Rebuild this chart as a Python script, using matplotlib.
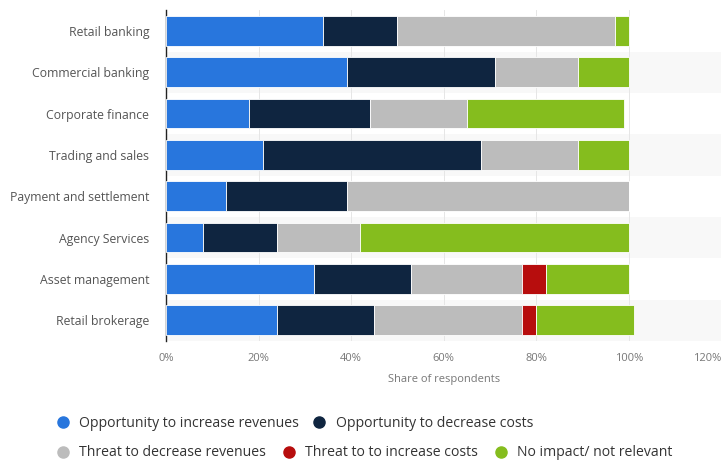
import matplotlib
matplotlib.use("Agg")
import matplotlib.pyplot as plt
from matplotlib.lines import Line2D
import numpy as np

categories = ["Retail banking", "Commercial banking", "Corporate finance", "Trading and sales",
              "Payment and settlement", "Agency Services", "Asset management", "Retail brokerage"]
series_names = ["Opportunity to increase revenues", "Opportunity to decrease costs",
                "Threat to decrease revenues", "Threat to to increase costs", "No impact/ not relevant"]
opp_rev = [34, 39, 18, 21, 13, 8, 32, 24]
opp_cost = [16, 32, 26, 47, 26, 16, 21, 21]
thr_rev = [47, 18, 21, 21, 61, 18, 24, 32]
thr_cost = [0, 0, 0, 0, 0, 0, 5, 3]
no_impact = [3, 11, 34, 11, 0, 58, 18, 21]
xticks = [0, 20, 40, 60, 80, 100, 120]
xtick_labels = ["0%", "20%", "40%", "60%", "80%", "100%", "120%"]

colors = ["#2876dd", "#0f2540", "#bcbcbc", "#b70d0d", "#85bd1e"]

plt.rcParams['font.family'] = ['Open Sans', 'DejaVu Sans']
fig = plt.figure(figsize=(7.21, 4.62), dpi=100)
ax = fig.add_axes([0.2302, 0.262, 0.7706, 0.716])

n = len(categories)
y = np.arange(n)
for i in range(n):
    if i % 2 == 1:
        ax.axhspan(i - 0.5, i + 0.5, color="#f8f8f8", zorder=0, lw=0)

left = np.zeros(n)
for vals, c, name in zip([opp_rev, opp_cost, thr_rev, thr_cost, no_impact], colors, series_names):
    v = np.array(vals, dtype=float)
    ax.barh(y, v, left=left, height=0.72, color=c, zorder=3, label=name, edgecolor="white", linewidth=0.6)
    left += v

ax.set_xlim(0, 120)
ax.set_ylim(n - 0.5, -0.5)
ax.set_yticks(y)
ax.set_yticklabels(categories, fontsize=8.8, color="#555555")
ax.set_xticks(xticks)
ax.set_xticklabels(xtick_labels, fontsize=8, color="#777777")
ax.get_xticklabels()[-1].set_horizontalalignment("right")
ax.tick_params(axis="y", length=0, pad=12)
ax.tick_params(axis="x", length=0, pad=9)
ax.grid(axis="x", color="#e6e6e6", lw=0.7, zorder=1)
ax.set_axisbelow(True)
for s in ["top", "right", "bottom"]:
    ax.spines[s].set_visible(False)
ax.spines["left"].set_color("#222222")
ax.spines["left"].set_linewidth(1.0)
ax.set_xlabel("Share of respondents", fontsize=8, color="#777777", labelpad=7)

def handle(c):
    return Line2D([0], [0], marker="o", color="w", markerfacecolor=c, markeredgecolor=c, markersize=8)

leg1 = fig.legend([handle(colors[0]), handle(colors[1])], series_names[:2], loc="center left",
                  bbox_to_anchor=(0.0777, 0.0844), ncol=2, frameon=False, fontsize=10.1,
                  handletextpad=0.65, columnspacing=0.95, handlelength=1.0, borderaxespad=0, borderpad=0)
for t in leg1.get_texts():
    t.set_color("#333333")
leg2 = fig.legend([handle(c) for c in colors[2:]], series_names[2:], loc="center left",
                  bbox_to_anchor=(0.0777, 0.0195), ncol=3, frameon=False, fontsize=10.1,
                  handletextpad=0.65, columnspacing=1.15, handlelength=1.0, borderaxespad=0, borderpad=0)
for t in leg2.get_texts():
    t.set_color("#333333")

fig.savefig("out.png", dpi=100)
